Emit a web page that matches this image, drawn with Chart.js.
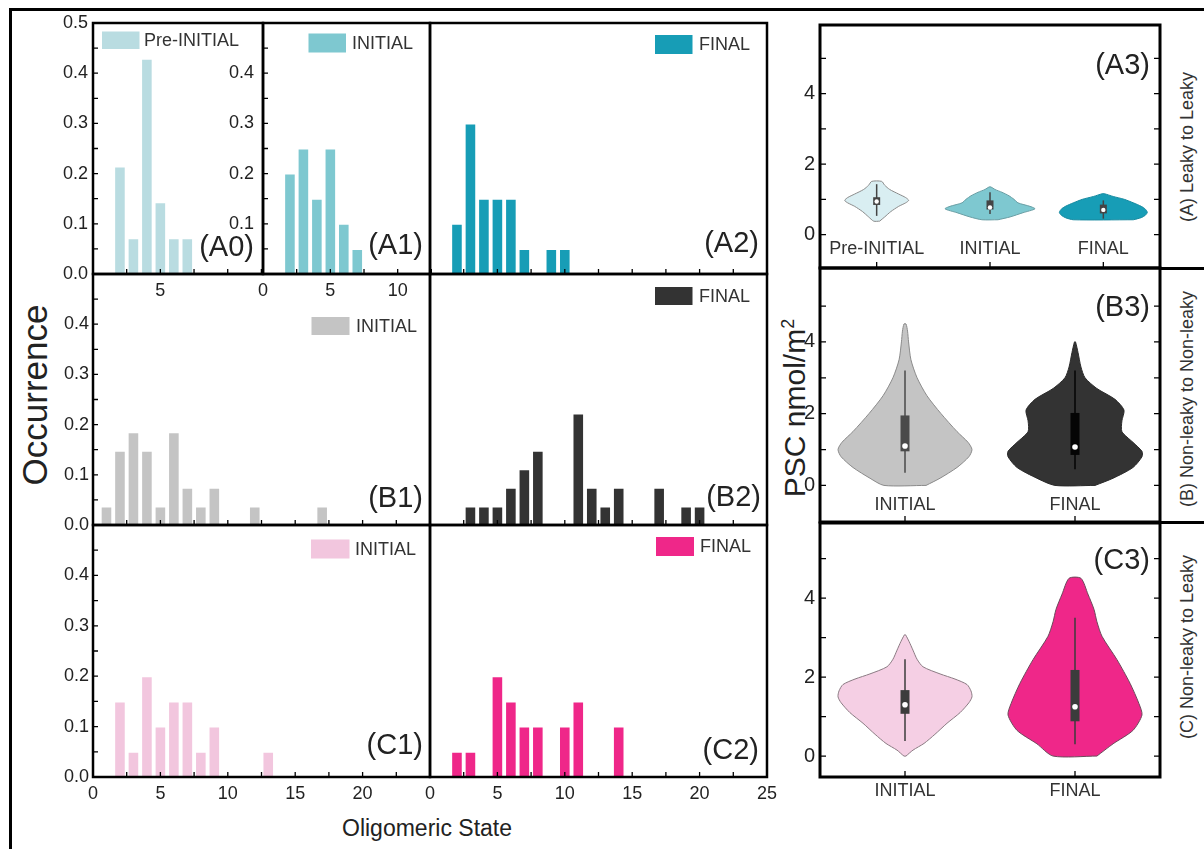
<!DOCTYPE html>
<html><head><meta charset="utf-8">
<script src="https://cdn.jsdelivr.net/npm/chart.js@4.4.0/dist/chart.umd.min.js"></script>
<style>
body{margin:0;width:1204px;height:849px;overflow:hidden;background:#fff;position:relative;font-family:"Liberation Sans",Arial,sans-serif;}
canvas{position:absolute;}
.ln{position:absolute;background:#000;}
.t{position:absolute;color:#222;white-space:nowrap;transform:translate(-50%,-50%);}
.r{transform:translate(-50%,-50%) rotate(-90deg);}
</style></head><body>
<div class="ln" style="left:9px;top:8px;width:3px;height:841px"></div>
<div class="ln" style="left:9px;top:8px;width:1195px;height:3px"></div>
<div class="ln" style="left:1160px;top:266.5px;width:44px;height:3px"></div>
<div class="ln" style="left:1160px;top:520.5px;width:44px;height:3px"></div>
<div class="t r" style="left:35px;top:395px;font-size:35px">Occurrence</div>
<div class="t" style="left:427px;top:828px;font-size:23px">Oligomeric State</div>
<div class="t r" style="left:795px;top:408px;font-size:30px">PSC nmol/m<sup style="font-size:60%">2</sup></div>
<div class="t r" style="left:1187px;top:147px;font-size:18px;color:#333">(A) Leaky to Leaky</div>
<div class="t r" style="left:1187px;top:399px;font-size:18px;color:#333">(B) Non-leaky to Non-leaky</div>
<div class="t r" style="left:1187px;top:647px;font-size:18px;color:#333">(C) Non-leaky to Leaky</div>
<script>
// ================= DATA =================
// Histograms (oligomeric state vs occurrence)
const statesA0 = [2,3,4,5,6,7];
const occA0    = [0.214,0.071,0.429,0.143,0.071,0.071];
const statesA1 = [2,3,4,5,6,7];
const occA1    = [0.20,0.25,0.15,0.25,0.10,0.05];
const statesA2 = [2,3,4,5,6,7,9,10];
const occA2    = [0.10,0.30,0.15,0.15,0.15,0.05,0.05,0.05];
const statesB1 = [1,2,3,4,5,6,7,8,9,12,17];
const occB1    = [0.037,0.148,0.185,0.148,0.037,0.185,0.074,0.037,0.074,0.037,0.037];
const statesB2 = [3,4,5,6,7,8,11,12,13,14,17,19,20];
const occB2    = [0.037,0.037,0.037,0.074,0.111,0.148,0.222,0.074,0.037,0.074,0.074,0.037,0.037];
const statesC1 = [2,3,4,5,6,7,8,9,13];
const occC1    = [0.15,0.05,0.20,0.10,0.15,0.15,0.05,0.10,0.05];
const statesC2 = [2,3,5,6,7,8,10,11,14];
const occC2    = [0.05,0.05,0.20,0.15,0.10,0.10,0.10,0.15,0.10];

// Tick labels
const yTicksRowA = [0,0.1,0.2,0.3,0.4,0.5];
const yTicksA1   = [0.1,0.2,0.3,0.4];
const yTicksRow  = [0,0.1,0.2,0.3,0.4];
const xTicksA0   = [5];
const xTicksA1   = [0,5,10];
const xTicksC1   = [0,5,10,15,20];
const xTicksC2   = [0,5,10,15,20,25];
const xMinorSmall = [2.5,5,7.5,10,12.5];
const xMinorFull  = [2.5,5,7.5,10,12.5,15,17.5,20,22.5];
const yMinorHist  = [0.05,0.1,0.15,0.2,0.25,0.3,0.35,0.4,0.45];
const violinYTicks = [0,2,4];
const violinYMinor = [0,1,2,3,4,5];
const catsA  = ['Pre-INITIAL','INITIAL','FINAL'];
const catsBC = ['INITIAL','FINAL'];

// Violin profiles: PSC level (y) and half-width (x units)
const vA3PreY  = [0.38,0.5,0.65,0.8,0.9,0.97,1.05,1.15,1.28,1.4,1.51];
const vA3PreW  = [0.026,0.071,0.124,0.194,0.256,0.282,0.256,0.194,0.115,0.071,0.044];
const vA3IniY  = [0.42,0.5,0.62,0.73,0.8,0.9,1.0,1.1,1.2,1.28,1.35];
const vA3IniW  = [0.071,0.177,0.291,0.397,0.353,0.247,0.212,0.168,0.106,0.044,0.009];
const vA3FinY  = [0.42,0.48,0.55,0.63,0.72,0.8,0.9,1.0,1.08,1.16];
const vA3FinW  = [0.265,0.335,0.371,0.388,0.371,0.335,0.265,0.185,0.088,0.009];
const vB3IniY  = [0,0.2,0.5,0.8,1.0,1.2,1.5,2.0,2.5,3.0,3.5,4.0,4.3,4.5];
const vB3IniW  = [0.124,0.206,0.306,0.376,0.394,0.371,0.306,0.212,0.129,0.071,0.035,0.021,0.015,0.006];
const vB3FinY  = [0,0.2,0.5,0.8,0.95,1.2,1.5,1.8,2.1,2.4,2.7,3.0,3.3,3.7,4.0];
const vB3FinW  = [0.118,0.224,0.341,0.394,0.394,0.341,0.276,0.276,0.288,0.235,0.129,0.059,0.035,0.018,0.003];
const vC3IniY  = [0,0.15,0.32,0.55,0.83,1.1,1.35,1.5,1.65,1.81,1.95,2.08,2.26,2.45,2.68,2.9,3.07];
const vC3IniW  = [0.006,0.047,0.112,0.176,0.247,0.324,0.376,0.394,0.388,0.365,0.294,0.206,0.106,0.071,0.047,0.024,0.003];
const vC3FinY  = [0,0.31,0.65,1.04,1.33,1.84,2.44,3.03,3.4,3.71,4.1,4.5];
const vC3FinW  = [0.129,0.224,0.341,0.394,0.376,0.324,0.247,0.159,0.129,0.112,0.076,0.035];
// Box stats: [whiskerLow, q1, median, q3, whiskerHigh]
const bxA3Pre = [0.53,0.84,0.94,1.06,1.43];
const bxA3Ini = [0.58,0.71,0.77,0.97,1.2];
const bxA3Fin = [0.45,0.6,0.7,0.85,0.97];
const bxB3Ini = [0.35,0.95,1.1,1.95,3.2];
const bxB3Fin = [0.45,0.85,1.07,2.02,3.2];
const bxC3Ini = [0.38,1.07,1.3,1.67,2.45];
const bxC3Fin = [0.3,0.88,1.25,2.18,3.5];

// Colours
const cPre='#b9dce1', cAIni='#7ec8d0', cAFin='#179db6', cBIni='#c4c4c4', cBFin='#333333', cCIni='#f2c6de', cCFin='#ef2789';
const cPreV='#d9eef2';

// ================= HELPERS =================
Chart.defaults.font.family='"Liberation Sans", Arial, sans-serif';
Chart.defaults.color='#222';

function makeDeco(d){
  return {id:'deco', afterDraw(chart){
    const ctx=chart.ctx, ca=chart.chartArea, xs=chart.scales.x, ys=chart.scales.y;
    ctx.save();
    ctx.strokeStyle='#000'; ctx.lineWidth=1.3; ctx.beginPath();
    (d.xMinor||[]).forEach(v=>{const p=xs.getPixelForValue(v); ctx.moveTo(p,ca.bottom); ctx.lineTo(p,ca.bottom-d.tl);});
    (d.yMinor||[]).forEach(v=>{const p=ys.getPixelForValue(v); ctx.moveTo(ca.left,p); ctx.lineTo(ca.left+d.tl,p);
      if(d.yRight){ctx.moveTo(ca.right,p); ctx.lineTo(ca.right-d.tl,p);} });
    ctx.stroke();
    ctx.lineWidth=d.frame;
    ctx.strokeRect(ca.left,ca.top,ca.right-ca.left,ca.bottom-ca.top);
    (d.rects||[]).forEach(r=>{ctx.fillStyle=r.color; ctx.fillRect(r.x-d.ox,r.y-d.oy,r.w,r.h);});
    if(d.cats){ctx.font=d.cats.font; ctx.fillStyle='#333'; ctx.textAlign='center'; ctx.textBaseline='middle';
      d.cats.names.forEach((n,i)=>ctx.fillText(n,xs.getPixelForValue(i+1),d.cats.y-d.oy));}
    (d.texts||[]).forEach(t=>{ctx.font=t.font; ctx.fillStyle=t.color||'#222'; ctx.textAlign=t.align||'left';
      ctx.textBaseline=t.baseline||'alphabetic'; ctx.fillText(t.text,t.x-d.ox,t.y-d.oy);});
    ctx.restore();
  }};
}

function place(plot,m,cfg,deco){
  const c=document.createElement('canvas');
  const W=plot.r-plot.l+m.l+m.r, H=plot.b-plot.t+m.t+m.b, left=plot.l-m.l, top=plot.t-m.t;
  c.width=W; c.height=H; c.style.left=left+'px'; c.style.top=top+'px'; c.style.width=W+'px'; c.style.height=H+'px';
  document.body.appendChild(c);
  const o=cfg.options;
  o.responsive=false; o.devicePixelRatio=1; o.animation=false;
  o.layout={padding:{top:m.t,right:m.r,left:0,bottom:0}};
  o.scales.x.afterFit=s=>{s.height=m.b;};
  o.scales.y.afterFit=s=>{s.width=m.l;};
  o.plugins={legend:{display:false},tooltip:{enabled:false}};
  deco.ox=left; deco.oy=top;
  cfg.plugins=[makeDeco(deco)];
  return new Chart(c,cfg);
}

const F18='18px "Liberation Sans", Arial, sans-serif';
const F29='29px "Liberation Sans", Arial, sans-serif';

function hist(p){
  const m={l:50,t:26,r:16,b:34};
  const cfg={type:'bar',
    data:{datasets:[{data:p.xs.map((x,i)=>({x:x,y:p.ys[i]})),backgroundColor:p.color,
      borderColor:'rgba(255,255,255,0.45)',borderWidth:1,barPercentage:0.86,categoryPercentage:1}]},
    options:{scales:{
      x:{type:'linear',min:p.xmin,max:p.xmax,offset:false,grid:{display:false,drawTicks:false},border:{display:false},
         afterBuildTicks:s=>{s.ticks=(p.xLab||[]).map(v=>({value:v}));},
         ticks:{display:!!p.xLab,padding:6,font:{size:18},color:'#222',autoSkip:false,maxRotation:0,callback:v=>String(v)}},
      y:{type:'linear',min:0,max:0.5,grid:{display:false,drawTicks:false},border:{display:false},
         afterBuildTicks:s=>{s.ticks=(p.yLab||[]).map(v=>({value:v}));},
         ticks:{display:!!p.yLab,padding:p.yPad||4,font:{size:18},color:'#222',autoSkip:false,callback:v=>v.toFixed(1)}}
    }}};
  const deco={frame:2.5,tl:5,xMinor:p.xMinor,yMinor:p.yMinor,
    rects:[{x:p.leg[0],y:p.leg[1],w:p.leg[2],h:p.leg[3],color:p.color}],
    texts:[{text:p.legText,x:p.leg[4],y:p.leg[1]+p.leg[3]/2+1,font:F18,baseline:'middle',color:'#333'},
           {text:p.label,x:p.lab[0],y:p.lab[1],font:F29,align:'right'}]};
  return place(p.plot,m,cfg,deco);
}

function violin(p){
  const m={l:40,t:26,r:12,b:30};
  const ds=[];
  p.groups.forEach((g,i)=>ds.push({data:[{x:i+1,y:g.bx[2]}],showLine:false,pointRadius:p.medR,pointBackgroundColor:'#fff',pointBorderWidth:0}));
  p.groups.forEach((g,i)=>ds.push({data:[{x:i+1,y:g.bx[1]},{x:i+1,y:g.bx[3]}],showLine:true,tension:0.01,borderColor:g.boxC,borderWidth:p.boxW,borderCapStyle:'butt',pointRadius:0}));
  p.groups.forEach((g,i)=>ds.push({data:[{x:i+1,y:g.bx[0]},{x:i+1,y:g.bx[4]}],showLine:true,tension:0.01,borderColor:g.boxC,borderWidth:1.5,pointRadius:0}));
  p.groups.forEach((g,i)=>{
    const c=i+1, pts=[];
    g.y.forEach((y,k)=>pts.push({x:c+g.w[k],y:y}));
    for(let k=g.y.length-1;k>=0;k--) pts.push({x:c-g.w[k],y:g.y[k]});
    pts.push({x:pts[0].x,y:pts[0].y});
    ds.push({data:pts,showLine:true,fill:'shape',tension:0.25,backgroundColor:g.fill,borderColor:g.edge,borderWidth:1,pointRadius:0});
  });
  const cfg={type:'scatter',data:{datasets:ds},
    options:{scales:{
      x:{type:'linear',min:0.5,max:p.cats.length+0.5,grid:{display:false,drawTicks:false},border:{display:false},
         afterBuildTicks:s=>{s.ticks=p.cats.map((c,i)=>({value:i+1}));},
         ticks:{display:!p.inside,padding:3,font:{size:18},color:'#333',autoSkip:false,maxRotation:0,callback:v=>p.cats[Math.round(v)-1]}},
      y:{type:'linear',min:p.ymin,max:p.ymax,grid:{display:false,drawTicks:false},border:{display:false},
         afterBuildTicks:s=>{s.ticks=violinYTicks.map(v=>({value:v}));},
         ticks:{padding:5,font:{size:20},color:'#222',autoSkip:false}}
    }}};
  const deco={frame:3,tl:6,yMinor:violinYMinor,yRight:true,xMinor:p.cats.map((c,i)=>i+1),
    cats:p.inside?{names:p.cats,y:p.catY,font:F18}:null,
    texts:[{text:p.label,x:1150,y:p.labY,font:F29,align:'right'}]};
  return place(p.plot,m,cfg,deco);
}

// ================= HISTOGRAMS =================
hist({plot:{l:93,t:23,r:263,b:274},xs:statesA0,ys:occA0,color:cPre,xmin:0,xmax:12.62,xLab:xTicksA0,yLab:yTicksRowA,yPad:5,
  xMinor:xMinorSmall,yMinor:yMinorHist,leg:[102,31.5,37.5,17.5,144],legText:'Pre-INITIAL',label:'(A0)',lab:[254,256]});
hist({plot:{l:263,t:23,r:430,b:274},xs:statesA1,ys:occA1,color:cAIni,xmin:0,xmax:12.4,xLab:xTicksA1,yLab:yTicksA1,yPad:9,
  xMinor:xMinorSmall,yMinor:yMinorHist,leg:[308.5,33.5,37.5,19,352],legText:'INITIAL',label:'(A1)',lab:[423,254]});
hist({plot:{l:430,t:23,r:767,b:274},xs:statesA2,ys:occA2,color:cAFin,xmin:0,xmax:25,
  xMinor:xMinorFull,leg:[655,35,37.5,19,699],legText:'FINAL',label:'(A2)',lab:[759,252]});
hist({plot:{l:93,t:274,r:430,b:525},xs:statesB1,ys:occB1,color:cBIni,xmin:0,xmax:25,yLab:yTicksRow,yPad:4,
  xMinor:xMinorFull,yMinor:yMinorHist,leg:[311.5,317,38,18,356],legText:'INITIAL',label:'(B1)',lab:[423,507]});
hist({plot:{l:430,t:274,r:767,b:525},xs:statesB2,ys:occB2,color:cBFin,xmin:0,xmax:25,
  xMinor:xMinorFull,leg:[655,287,37.5,18,699],legText:'FINAL',label:'(B2)',lab:[761,506]});
hist({plot:{l:93,t:525,r:430,b:777},xs:statesC1,ys:occC1,color:cCIni,xmin:0,xmax:25,xLab:xTicksC1,yLab:yTicksRow,yPad:4,
  xMinor:xMinorFull,yMinor:yMinorHist,leg:[311,539.5,38.5,19,355],legText:'INITIAL',label:'(C1)',lab:[423,754]});
hist({plot:{l:430,t:525,r:767,b:777},xs:statesC2,ys:occC2,color:cCFin,xmin:0,xmax:25,xLab:xTicksC2,
  xMinor:xMinorFull,leg:[656,537,38,19,700],legText:'FINAL',label:'(C2)',lab:[759,759]});

// ================= VIOLINS =================
violin({plot:{l:820,t:25,r:1160,b:268},cats:catsA,ymin:-0.95,ymax:5.95,inside:true,catY:249,label:'(A3)',labY:74,boxW:7,medR:2.2,
  groups:[{y:vA3PreY,w:vA3PreW,bx:bxA3Pre,fill:cPreV,edge:'#8a8a8a',boxC:'#444'},
          {y:vA3IniY,w:vA3IniW,bx:bxA3Ini,fill:cAIni,edge:'#6a9ea4',boxC:'#444'},
          {y:vA3FinY,w:vA3FinW,bx:bxA3Fin,fill:cAFin,edge:'#178aa0',boxC:'#444'}]});
violin({plot:{l:820,t:268,r:1160,b:522},cats:catsBC,ymin:-1.02,ymax:6.06,inside:true,catY:505,label:'(B3)',labY:316,boxW:9,medR:2.8,
  groups:[{y:vB3IniY,w:vB3IniW,bx:bxB3Ini,fill:cBIni,edge:'#8a8a8a',boxC:'#4a4a4a'},
          {y:vB3FinY,w:vB3FinW,bx:bxB3Fin,fill:cBFin,edge:'#2a2a2a',boxC:'#050505'}]});
violin({plot:{l:820,t:523,r:1160,b:777},cats:catsBC,ymin:-0.53,ymax:5.9,inside:false,label:'(C3)',labY:569,boxW:9,medR:2.8,
  groups:[{y:vC3IniY,w:vC3IniW,bx:bxC3Ini,fill:'#f5cfe4',edge:'#8a7a82',boxC:'#3c3c3c'},
          {y:vC3FinY,w:vC3FinW,bx:bxC3Fin,fill:cCFin,edge:'#6a4a5a',boxC:'#3c3c3c'}]});
</script>
</body></html>
